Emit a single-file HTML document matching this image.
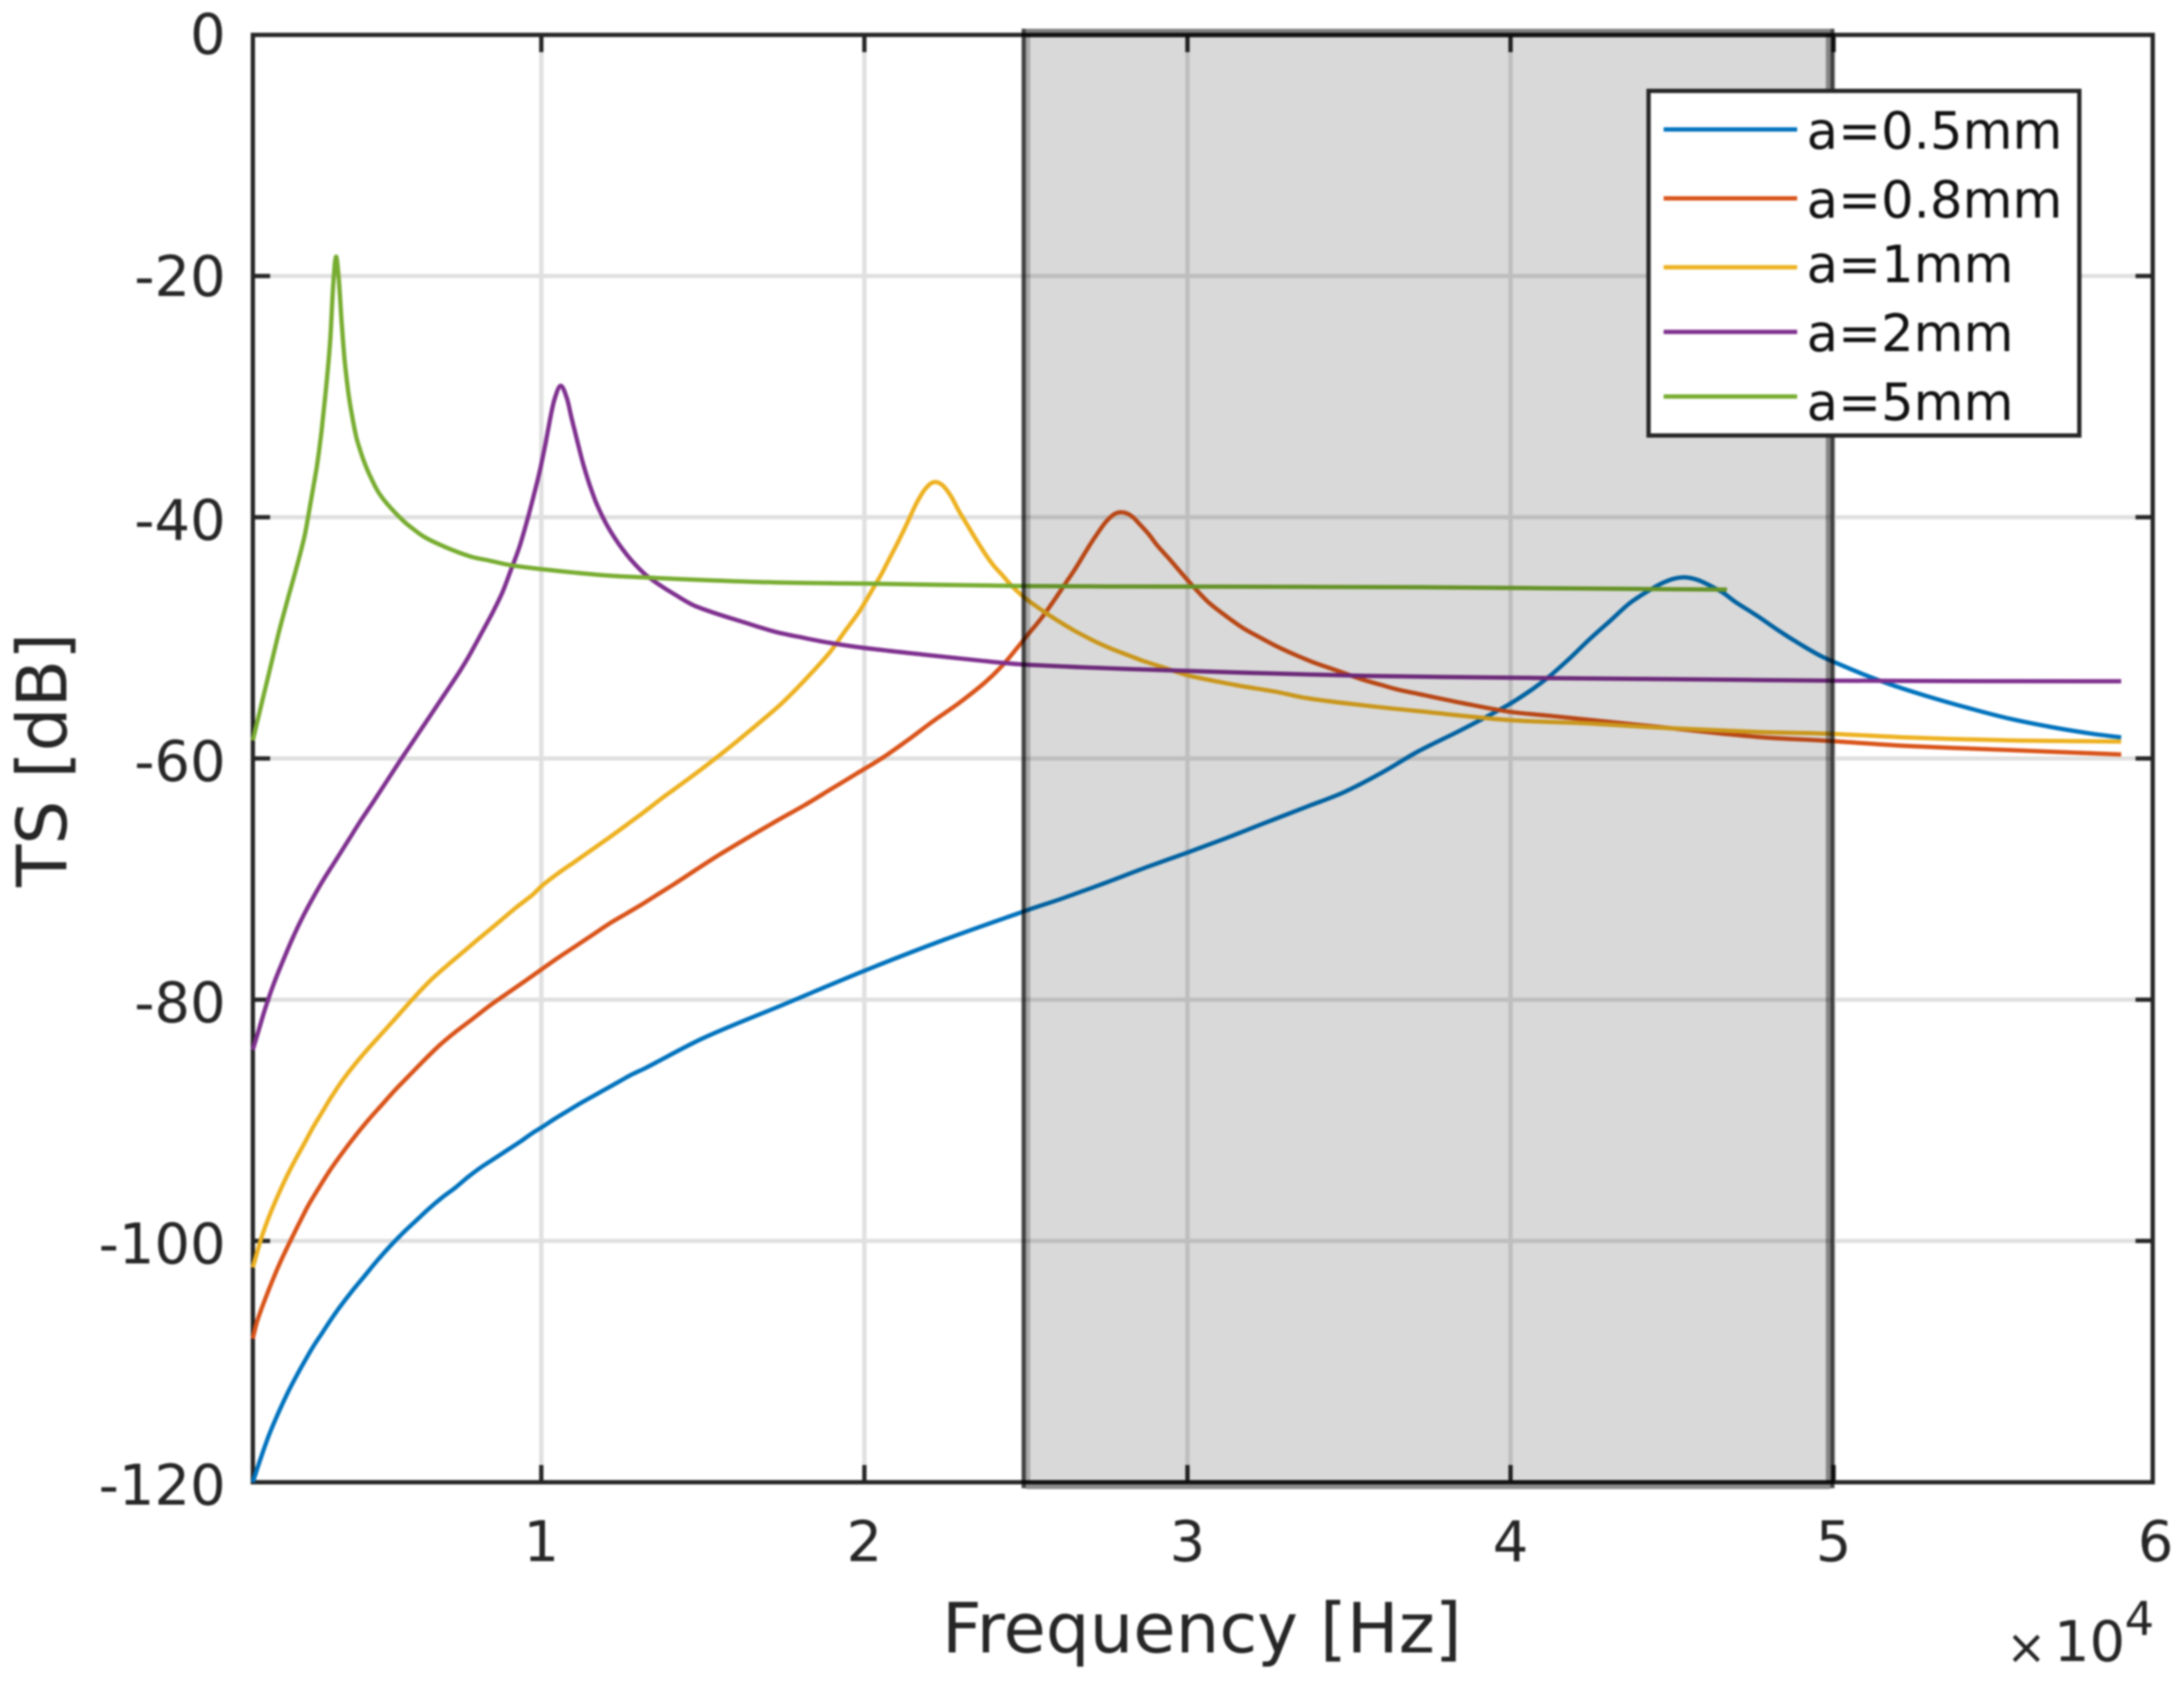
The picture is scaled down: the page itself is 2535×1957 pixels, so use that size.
<!DOCTYPE html>
<html>
<head>
<meta charset="utf-8">
<title>TS vs Frequency</title>
<style>
html,body{margin:0;padding:0;background:#fff;width:2535px;height:1957px;overflow:hidden}
svg{display:block;filter:blur(1.1px)}
text{font-family:"DejaVu Sans","Liberation Sans",sans-serif;fill:#262626}
</style>
</head>
<body>
<svg id="chart" xmlns="http://www.w3.org/2000/svg" width="2535" height="1957" viewBox="0 0 2535 1957">
<rect x="0" y="0" width="2535" height="1957" fill="#fff"/>
<g id="grid"></g>
<g id="curves"></g>
<g id="frame"></g>
<g id="shade"></g>
<g id="ticklabels"></g>
<text x="1395" y="1918" font-size="80" text-anchor="middle">Frequency [Hz]</text>
<text transform="translate(77,882) rotate(-90)" font-size="80.5" text-anchor="middle">TS [dB]</text>
<text x="2352" y="1931" font-size="56" text-anchor="middle">×</text>
<text x="2384" y="1928" font-size="65">10</text>
<text x="2466" y="1898" font-size="54">4</text>
<g id="legend"></g>
</svg>
<script>
const xTicks = [1, 2, 3, 4, 5, 6];
const xTickLabels = ['1', '2', '3', '4', '5', '6'];
const yTicks = [0, -20, -40, -60, -80, -100, -120];
const yTickLabels = ['0', '-20', '-40', '-60', '-80', '-100', '-120'];
const bandStart = 25;
const bandEnd = 50;
const seriesNames = ['a=0.5mm', 'a=0.8mm', 'a=1mm', 'a=2mm', 'a=5mm'];

const freq05 = [1.07,1.33,1.6,1.87,2.13,2.4,2.67,2.93,3.2,3.47,3.73,4.13,4.53,4.93,5.33,5.73,6.13,6.53,6.93,7.33,7.73,8.13,8.53,8.93,9.33,9.73,10,10.4,10.8,11.2,11.6,12,12.4,12.8,13.2,15,17.5,20,22.5,25.02,26.13,27.47,28.8,30,31.2,32.44,33.69,34.84,36,37.15,38.5,39.9,40.6,41.2,41.85,42.45,43.1,43.7,44.3,44.7,45.05,45.4,45.8,46.2,46.6,46.95,47.65,48.3,48.95,49.6,50.1,50.9,51.8,52.85,54.15,55.45,56.75,58,58.9];
const ts05 = [-120,-117.9,-115.9,-114.2,-112.7,-111.3,-110,-108.8,-107.7,-106.6,-105.6,-104.2,-102.9,-101.6,-100.4,-99.3,-98.3,-97.3,-96.4,-95.6,-94.7,-93.9,-93.2,-92.5,-91.8,-91.05,-90.6,-89.9,-89.25,-88.6,-88,-87.4,-86.8,-86.2,-85.7,-83.2,-80.4,-77.6,-75,-72.6,-71.6,-70.3,-68.95,-67.8,-66.6,-65.3,-64,-62.8,-61.2,-59.4,-57.6,-55.6,-54.4,-53.2,-51.65,-50.1,-48.55,-47.1,-46.05,-45.46,-45.1,-44.98,-45.2,-45.7,-46.3,-47,-48.2,-49.4,-50.5,-51.5,-52.1,-53,-53.9,-54.8,-55.8,-56.7,-57.4,-57.95,-58.25];

const freq08 = [1.07,1.2,1.47,1.73,2,2.27,2.53,2.8,3.07,3.47,3.87,4.27,4.67,5.07,5.47,5.87,6.27,6.8,7.33,7.87,8.4,8.93,9.47,10,10.53,11.07,11.6,12.13,12.67,13.2,13.73,14.09,15.5,17.33,18.13,18.93,19.73,20.53,21.33,22.13,22.93,23.73,24.27,24.8,25.07,25.47,25.87,26.27,26.53,26.93,27.2,27.47,27.73,28,28.27,28.53,28.8,29.07,29.47,29.87,30.27,30.67,31.2,31.73,32.27,32.8,33.33,33.87,34.4,34.93,35.47,36,36.53,37.15,38.5,39.9,41.2,42.45,45,47.6,49.9,52.2,55.45,58.9];
const ts08 = [-108.1,-106.7,-104.7,-102.95,-101.3,-99.8,-98.4,-97,-95.8,-94.1,-92.6,-91.2,-89.9,-88.7,-87.5,-86.4,-85.3,-83.9,-82.7,-81.6,-80.5,-79.5,-78.5,-77.5,-76.5,-75.55,-74.6,-73.65,-72.8,-71.95,-71.05,-70.45,-68,-65.1,-63.9,-62.6,-61.3,-60,-58.5,-56.9,-55.4,-53.7,-52.3,-50.6,-49.7,-48.4,-46.9,-45.3,-44.26,-42.5,-41.4,-40.4,-39.75,-39.6,-39.9,-40.6,-41.4,-42.35,-43.55,-44.8,-46,-47.1,-48.2,-49.2,-50,-50.75,-51.4,-52,-52.5,-53,-53.5,-53.9,-54.3,-54.65,-55.4,-56.1,-56.46,-56.8,-57.5,-58.2,-58.55,-58.95,-59.3,-59.67];

const freq1 = [1.07,1.33,1.6,1.87,2.13,2.4,2.67,2.93,3.2,3.47,3.87,4.4,4.93,5.47,6,6.53,7.07,7.6,8.13,8.67,9.2,9.73,10,10.53,11.07,11.6,12.13,12.67,13.2,13.73,14.09,15,16,17.33,17.87,18.4,18.93,19.33,19.87,20.27,20.53,20.8,21.07,21.33,21.6,21.87,22.13,22.4,22.67,22.93,23.2,23.47,23.73,24,24.27,24.53,24.8,25.07,25.33,25.6,26,26.5,27.07,27.6,28.13,28.67,29.2,30,31.47,32.8,33.7,35.47,37.24,39.9,42.45,45,47.6,49.9,52.2,55.45,58.9];
const ts1 = [-102.2,-99.8,-97.8,-96.1,-94.6,-93.2,-91.9,-90.6,-89.4,-88.2,-86.6,-84.8,-83.2,-81.6,-80,-78.5,-77.2,-76,-74.8,-73.6,-72.4,-71.3,-70.6,-69.5,-68.5,-67.5,-66.5,-65.45,-64.4,-63.3,-62.6,-60.8,-58.7,-55.7,-54.3,-52.8,-51.2,-49.7,-47.7,-45.9,-44.7,-43.3,-41.9,-40.45,-38.9,-37.7,-37.1,-37.3,-38.2,-39.5,-40.7,-41.9,-43,-44,-44.8,-45.6,-46.3,-46.9,-47.4,-47.9,-48.6,-49.4,-50.2,-50.85,-51.4,-51.95,-52.4,-53.1,-53.9,-54.5,-55,-55.6,-56.1,-56.8,-57.1,-57.5,-57.8,-57.95,-58.25,-58.5,-58.6];

const freq2 = [1.07,1.2,1.47,1.73,2,2.27,2.53,2.8,3.2,3.6,4,4.4,4.8,5.2,5.6,6,6.4,6.8,7.2,7.47,7.73,8.13,8.53,8.8,9.07,9.33,9.6,9.87,10,10.13,10.27,10.4,10.6,10.8,10.93,11.07,11.2,11.33,11.47,11.6,11.73,12,12.27,12.53,12.8,13.2,13.6,14.13,14.8,16.5,17.25,18.13,18.9,19.9,21.87,23.47,24.9,28.35,31.9,35.5,40,50,58.9];
const ts2 = [-84.15,-83,-80.6,-78.6,-76.8,-75.1,-73.6,-72.2,-70.3,-68.6,-66.9,-65.2,-63.6,-61.95,-60.3,-58.7,-57.1,-55.5,-53.9,-52.8,-51.65,-49.7,-47.7,-46.2,-44.3,-42.4,-39.9,-37.1,-35.6,-33.9,-31.9,-30.3,-29.1,-30.2,-31.7,-33.2,-34.6,-35.9,-37.1,-38.1,-39,-40.5,-41.7,-42.7,-43.6,-44.7,-45.5,-46.4,-47.4,-48.9,-49.5,-50,-50.4,-50.8,-51.4,-51.85,-52.2,-52.6,-52.9,-53.15,-53.3,-53.55,-53.6];

const freq5 = [1.07,1.6,1.87,2.13,2.4,2.67,2.8,2.93,3.07,3.2,3.33,3.47,3.56,3.645,3.73,3.82,3.91,4.02,4.13,4.27,4.4,4.53,4.67,4.93,5.2,5.47,5.73,6,6.36,6.8,7.33,7.87,8.4,9.11,10,11.07,12.13,13.3,15,17.2,20,24.9,30,37.2,46.7];
const ts5 = [-58.5,-52.6,-49.6,-47,-44.4,-41.6,-39.7,-37.7,-35.5,-32.8,-29.5,-25.2,-20.7,-18.4,-20.2,-23.8,-26.9,-29.5,-31.4,-33.3,-34.5,-35.5,-36.4,-37.8,-38.8,-39.6,-40.3,-40.9,-41.6,-42.2,-42.8,-43.3,-43.6,-44,-44.3,-44.6,-44.85,-45,-45.2,-45.4,-45.5,-45.7,-45.75,-45.8,-46];

const seriesFreqs = [freq05, freq08, freq1, freq2, freq5];
const seriesValues = [ts05, ts08, ts1, ts2, ts5];
const seriesColors = ['#0072BD', '#D95319', '#EDB120', '#7E2F8E', '#77AC30'];

const NS = 'http://www.w3.org/2000/svg';
const axLeft = 293.5, axRight = 2498.7, axTop = 40.5, axBottom = 1720.5;
function xScale(f) { return 628.3 + (f - 10) * 37.5; }
function xTickScale(v) { return xScale(v * 10); }
function yScale(db) { return 40.4 - db * 14; }
function smoothPath(pts) {
  let d = 'M' + pts[0][0].toFixed(1) + ' ' + pts[0][1].toFixed(1);
  for (let i = 0; i < pts.length - 1; i++) {
    const p0 = pts[Math.max(i - 1, 0)], p1 = pts[i], p2 = pts[i + 1], p3 = pts[Math.min(i + 2, pts.length - 1)];
    const dx = p2[0] - p1[0];
    const m1 = (p2[1] - p0[1]) / Math.max(p2[0] - p0[0], 0.001);
    const m2 = (p3[1] - p1[1]) / Math.max(p3[0] - p1[0], 0.001);
    d += 'C' + (p1[0] + dx / 3).toFixed(1) + ' ' + (p1[1] + m1 * dx / 3).toFixed(1) + ' ' +
         (p2[0] - dx / 3).toFixed(1) + ' ' + (p2[1] - m2 * dx / 3).toFixed(1) + ' ' +
         p2[0].toFixed(1) + ' ' + p2[1].toFixed(1);
  }
  return d;
}
function mk(tag, parent, attrs) {
  const e = document.createElementNS(NS, tag);
  for (const k in attrs) e.setAttribute(k, attrs[k]);
  parent.appendChild(e);
  return e;
}
const gGrid = document.getElementById('grid');
const gCurves = document.getElementById('curves');
const gFrame = document.getElementById('frame');
const gShade = document.getElementById('shade');
const gLabels = document.getElementById('ticklabels');
const gLegend = document.getElementById('legend');

xTicks.forEach(function (v, i) {
  const x = xTickScale(v);
  if (x < axRight) {
    const g = mk('line', gGrid, {x1: x, x2: x, y1: axTop, y2: axBottom, stroke: '#e0e0e0', 'stroke-width': 5});
    
    
    const t1 = mk('line', gFrame, {x1: x, x2: x, y1: axTop, y2: axTop + 20, stroke: '#262626', 'stroke-width': 5});
    
    
    const t2 = mk('line', gFrame, {x1: x, x2: x, y1: axBottom, y2: axBottom - 20, stroke: '#262626', 'stroke-width': 5});
    
    
  }
  const lx = Math.min(x, 2502);
  const lab = mk('text', gLabels, {x: lx, y: 1812, 'font-size': 65, 'text-anchor': 'middle'});
  lab.textContent = xTickLabels[i];
  
  
});

yTicks.forEach(function (v, i) {
  const y = yScale(v);
  if (v !== 0 && v !== -120) {
    const g = mk('line', gGrid, {x1: axLeft, x2: axRight, y1: y, y2: y, stroke: '#e0e0e0', 'stroke-width': 5});
    
    
    const t1 = mk('line', gFrame, {x1: axLeft, x2: axLeft + 20, y1: y, y2: y, stroke: '#262626', 'stroke-width': 5});
    
    
    const t2 = mk('line', gFrame, {x1: axRight, x2: axRight - 20, y1: y, y2: y, stroke: '#262626', 'stroke-width': 5});
    
    
  }
  const lab = mk('text', gLabels, {x: 262, y: y + (v === 0 ? 22 : v === -20 ? 23 : 26), 'font-size': 65, 'text-anchor': 'end'});
  lab.textContent = yTickLabels[i];
  
  
});

const box = mk('rect', gFrame, {x: axLeft, y: axTop, width: axRight - axLeft, height: axBottom - axTop, fill: 'none', stroke: '#262626', 'stroke-width': 5});


gFrame.parentNode.insertBefore(gFrame, gCurves);

seriesNames.forEach(function (name, i) {
  const pts = seriesFreqs[i].map(function (f, j) { return [xScale(f), yScale(seriesValues[i][j])]; });
  const line = mk('path', gCurves, {d: smoothPath(pts), fill: 'none', stroke: seriesColors[i], 'stroke-width': 5, 'stroke-linejoin': 'round'});
  
  
});

const bx0 = xScale(bandStart), bx1 = xScale(bandEnd), by0 = yScale(0), by1 = yScale(-120);
const bandFill = mk('rect', gShade, {x: bx0, y: by0, width: bx1 - bx0 - 4, height: by1 - by0, fill: 'rgba(0,0,0,0.15)'});


const bandEdges = [
  {x: bx0 - 5, y: by0 - 7, width: 5, height: by1 - by0 + 14, fill: 'rgba(0,0,0,0.74)'},
  {x: bx0, y: by0, width: 5, height: by1 - by0, fill: 'rgba(0,0,0,0.22)'},
  {x: bx1 - 9, y: by0, width: 5, height: by1 - by0, fill: 'rgba(0,0,0,0.38)'},
  {x: bx1 - 4, y: by0 - 7, width: 5, height: by1 - by0 + 14, fill: 'rgba(0,0,0,0.72)'},
  {x: bx0, y: by0 - 7, width: bx1 - bx0 - 4, height: 5, fill: 'rgba(0,0,0,0.5)'},
  {x: bx0, y: by0 - 2, width: bx1 - bx0 - 4, height: 5, fill: 'rgba(0,0,0,0.5)'},
  {x: bx0, y: by1 - 2, width: bx1 - bx0 - 4, height: 5, fill: 'rgba(0,0,0,0.5)'},
  {x: bx0, y: by1 + 3, width: bx1 - bx0 - 4, height: 5, fill: 'rgba(0,0,0,0.45)'}
];
bandEdges.forEach(function (a) {
  const e = mk('rect', gShade, a);
  
  
});

const lg = mk('rect', gLegend, {x: 1913.5, y: 105.5, width: 500, height: 400, fill: '#fff', stroke: '#262626', 'stroke-width': 5});


const legendLineY = [150.3, 230.3, 310.3, 385.3, 460.3];
const legendTextY = [172.5, 252.5, 327.5, 407.5, 487.5];
seriesNames.forEach(function (name, i) {
  const l = mk('line', gLegend, {x1: 1931, x2: 2086, y1: legendLineY[i], y2: legendLineY[i], stroke: seriesColors[i], 'stroke-width': 5});
  
  
  const t = mk('text', gLegend, {x: 2097, y: legendTextY[i], 'font-size': 59.5, style: 'fill:#111'});
  t.textContent = name;
  
  
});
</script>
</body>
</html>
